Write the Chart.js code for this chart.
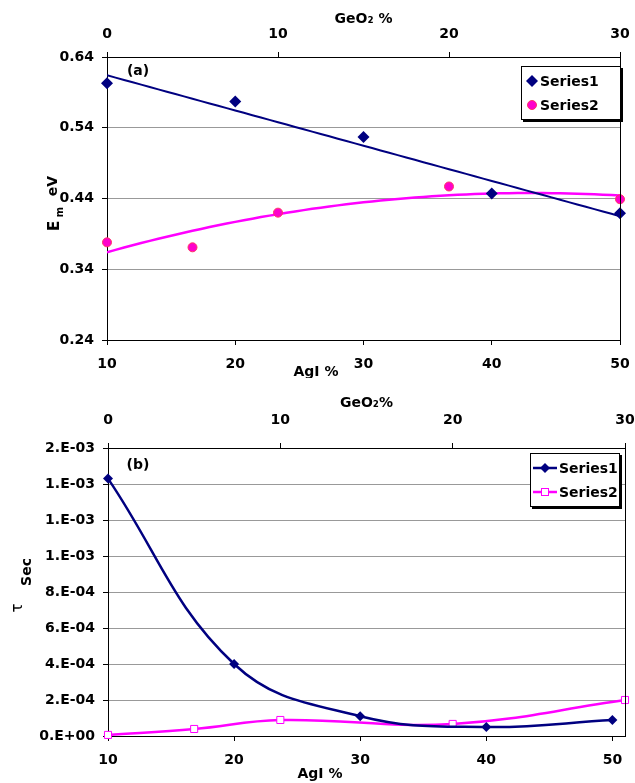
<!DOCTYPE html>
<html>
<head>
<meta charset="utf-8">
<script src="https://cdn.jsdelivr.net/npm/chart.js@4.4.1/dist/chart.umd.min.js"></script>
<style>
  body { margin: 0; background: #fff; }
  .wrap { position: absolute; left: 0; width: 635px; }
  .legend {
    position: absolute; background: #fff; border: 1px solid #000;
    box-shadow: 2px 2px 0 #000; font: bold 14px "DejaVu Sans", Verdana, sans-serif; color: #000;
  }
  .legend .row { display: flex; align-items: center; height: 24px; }
  .legend svg { display: block; margin-right: 1px; }
</style>
</head>
<body>
<div class="wrap" style="top:0; height:378px;"><canvas id="chartA"></canvas></div>
<div class="wrap" style="top:378px; height:405px;"><canvas id="chartB"></canvas></div>
<div class="legend" id="legendA" style="left:521px; top:66px; width:95px; padding:2px 0 2px 3px;"></div>
<div class="legend" id="legendB" style="left:530px; top:453px; width:87px; padding:2px 0 2px 1px;"></div>

<script>
// ---- data ----
const agiTicks = [10, 20, 30, 40, 50];
const geoTicks = [0, 10, 20, 30];

// (a) Em (eV)
const emAgI = [10, 20, 30, 40, 50];
const emSeries1 = [0.603, 0.577, 0.527, 0.447, 0.419];
const emGeO2 = [0, 5, 10, 20, 30];
const emSeries2 = [0.378, 0.371, 0.420, 0.457, 0.439];
const emTicks = [0.24, 0.34, 0.44, 0.54, 0.64];

// (b) tau (sec)
const tauAgI = [10, 20, 30, 40, 50];
const tauSeries1 = [1.43e-3, 4.0e-4, 1.1e-4, 5.0e-5, 8.9e-5];
const tauGeO2 = [0, 5, 10, 20, 30];
const tauSeries2 = [6e-6, 3.9e-5, 8.9e-5, 6.7e-5, 2.0e-4];
const tauTicks = [0, 2e-4, 4e-4, 6e-4, 8e-4, 1.0e-3, 1.2e-3, 1.4e-3, 1.6e-3];

const NAVY = '#000080';
const PINK = '#ff00ff';
const FONT = '"DejaVu Sans", Verdana, sans-serif';
const tickFont = { family: FONT, size: 14, weight: 'bold' };

Chart.defaults.font.family = FONT;
Chart.defaults.color = '#000';

const pts = (xs, ys) => xs.map((x, i) => ({ x, y: ys[i] }));
const fixedTicks = values => scale => { scale.ticks = values.map(v => ({ value: v })); };

// least squares polynomial, like an Excel trendline
function fitPoly(xs, ys, deg) {
  const n = deg + 1;
  const m = [];
  for (let i = 0; i < n; i++) {
    m.push([]);
    for (let j = 0; j < n; j++) m[i].push(xs.reduce((s, x) => s + Math.pow(x, i + j), 0));
    m[i].push(xs.reduce((s, x, k) => s + Math.pow(x, i) * ys[k], 0));
  }
  for (let i = 0; i < n; i++) {
    for (let k = i + 1; k < n; k++) {
      const f = m[k][i] / m[i][i];
      for (let j = i; j <= n; j++) m[k][j] -= f * m[i][j];
    }
  }
  const c = new Array(n).fill(0);
  for (let i = n - 1; i >= 0; i--) {
    let s = m[i][n];
    for (let j = i + 1; j < n; j++) s -= m[i][j] * c[j];
    c[i] = s / m[i][i];
  }
  return c;
}

function trend(xs, ys, deg) {
  const c = fitPoly(xs, ys, deg);
  const lo = Math.min(...xs), hi = Math.max(...xs);
  const out = [];
  for (let i = 0; i <= 60; i++) {
    const x = lo + (hi - lo) * i / 60;
    out.push({ x, y: c.reduce((s, a, k) => s + a * Math.pow(x, k), 0) });
  }
  return out;
}

function expLabel(v) {
  if (Math.abs(v) < 1e-12) return '0.E+00';
  const [mant, ex] = v.toExponential(0).split('e');
  const e = parseInt(ex, 10);
  return mant + '.E' + (e < 0 ? '-' : '+') + String(Math.abs(e)).padStart(2, '0');
}

function rotText(ctx, text, x, y, font) {
  ctx.save();
  ctx.translate(x, y);
  ctx.rotate(-Math.PI / 2);
  ctx.font = font;
  ctx.textAlign = 'center';
  ctx.textBaseline = 'middle';
  ctx.fillText(text, 0, 0);
  ctx.restore();
}

// fixed axis box size, no extra side padding for edge labels
const fixHeight = h => s => { s.height = h; s.paddingLeft = 0; s.paddingRight = 0; };

function xAxes(xMin, xMax, bottomHeight, topHeight, topTitle, topPad, titlePad) {
  const common = {
    type: 'linear',
    grid: { drawOnChartArea: false, color: '#000', tickLength: 5 },
    border: { color: '#000', width: 1 },
    ticks: { font: tickFont, color: '#000', maxRotation: 0 }
  };
  return {
    x: {
      ...common, position: 'bottom', min: xMin, max: xMax,
      afterBuildTicks: fixedTicks(agiTicks),
      afterFit: fixHeight(bottomHeight),
      ticks: { ...common.ticks, padding: 11 }
    },
    x2: {
      ...common, position: 'top', min: 0, max: 30,
      afterBuildTicks: fixedTicks(geoTicks),
      afterFit: fixHeight(topHeight),
      ticks: { ...common.ticks, padding: topPad },
      title: { display: true, text: topTitle, font: { family: FONT, size: 14, weight: 'bold' }, color: '#000',
        padding: { top: titlePad, bottom: 0 } }
    }
  };
}

function framePlugin(draw) {
  return {
    id: 'frame',
    afterDraw(chart) {
      const { ctx, chartArea: a } = chart;
      ctx.save();
      ctx.strokeStyle = '#000';
      ctx.lineWidth = 1;
      ctx.beginPath();
      ctx.moveTo(a.right + 0.5, a.top);
      ctx.lineTo(a.right + 0.5, a.bottom);
      ctx.stroke();
      ctx.fillStyle = '#000';
      draw(ctx, a);
      ctx.restore();
    }
  };
}

// ---- chart (a) ----
const chartA = new Chart(document.getElementById('chartA'), {
  type: 'scatter',
  data: {
    datasets: [
      { label: 'Series1', data: pts(emAgI, emSeries1), xAxisID: 'x', pointStyle: 'rectRot', pointRadius: 6,
        backgroundColor: NAVY, borderColor: NAVY, borderWidth: 0, clip: false },
      { label: 'Series2', data: pts(emGeO2, emSeries2), xAxisID: 'x2', pointStyle: 'circle', pointRadius: 4.5,
        backgroundColor: '#ff00cc', borderColor: '#ff3366', borderWidth: 1, clip: false },
      { label: 'trend1', data: trend(emAgI, emSeries1, 1), xAxisID: 'x', showLine: true, pointRadius: 0,
        borderColor: NAVY, borderWidth: 2 },
      { label: 'trend2', data: trend(emGeO2, emSeries2, 2), xAxisID: 'x2', showLine: true, pointRadius: 0,
        borderColor: PINK, borderWidth: 2.5 }
    ]
  },
  options: {
    responsive: true,
    maintainAspectRatio: false,
    animation: false,
    events: [],
    layout: { padding: { left: 0, right: 15, top: 0, bottom: 0 } },
    plugins: { legend: { display: false }, tooltip: { enabled: false } },
    scales: {
      ...xAxes(10, 50, 38, 57, 'GeO\u2082 %', 9, 11),
      y: {
        min: 0.24, max: 0.64,
        afterBuildTicks: fixedTicks(emTicks),
        afterFit: s => { s.width = 107; },
        grid: { color: '#999', tickColor: '#000', tickLength: 5 },
        border: { color: '#000', width: 1 },
        ticks: { font: tickFont, color: '#000', padding: 8, callback: v => v.toFixed(2) }
      }
    }
  },
  plugins: [framePlugin((ctx, a) => {
    ctx.font = `bold 14px ${FONT}`;
    ctx.textAlign = 'center';
    ctx.textBaseline = 'middle';
    ctx.fillText('(a)', a.left + 31, a.top + 14);
    ctx.fillText('AgI %', 316, a.bottom + 32);
    rotText(ctx, 'E', 55, 226, `bold 15px ${FONT}`);
    rotText(ctx, 'm', 60, 212, `bold 10px ${FONT}`);
    rotText(ctx, 'eV', 53, 186, `bold 14px ${FONT}`);
  })]
});

// ---- chart (b) ----
const chartB = new Chart(document.getElementById('chartB'), {
  type: 'scatter',
  data: {
    datasets: [
      { label: 'Series1', data: pts(tauAgI, tauSeries1), xAxisID: 'x', showLine: true, tension: 0.4,
        pointStyle: 'rectRot', pointRadius: 5, backgroundColor: NAVY, borderColor: NAVY, borderWidth: 2.5,
        pointBorderWidth: 0, clip: false },
      { label: 'Series2', data: pts(tauGeO2, tauSeries2), xAxisID: 'x2', showLine: true, tension: 0.4,
        pointStyle: 'rect', pointRadius: 5, backgroundColor: '#fff', borderColor: PINK, borderWidth: 2.5,
        pointBorderWidth: 1, clip: false }
    ]
  },
  options: {
    responsive: true,
    maintainAspectRatio: false,
    animation: false,
    events: [],
    layout: { padding: { left: 0, right: 10, top: 0, bottom: 0 } },
    plugins: { legend: { display: false }, tooltip: { enabled: false } },
    scales: {
      ...xAxes(10, 51, 47, 70, 'GeO\u2082%', 14, 17),
      y: {
        min: 0, max: 1.6e-3,
        afterBuildTicks: fixedTicks(tauTicks),
        afterFit: s => { s.width = 108; },
        grid: { color: '#999', tickColor: '#000', tickLength: 5 },
        border: { color: '#000', width: 1 },
        ticks: { font: tickFont, color: '#000', padding: 8, callback: v => expLabel(v) }
      }
    }
  },
  plugins: [framePlugin((ctx, a) => {
    ctx.font = `bold 14px ${FONT}`;
    ctx.textAlign = 'center';
    ctx.textBaseline = 'middle';
    ctx.fillText('(b)', a.left + 30, a.top + 17);
    ctx.fillText('AgI %', 320, a.bottom + 38);
    rotText(ctx, '\u03C4', 18, 608 - 378, `15px ${FONT}`);
    rotText(ctx, 'Sec', 27, 572 - 378, `bold 14px ${FONT}`);
  })]
});

// ---- HTML legends ----
const svgDiamond = `<svg width="14" height="14"><path d="M7 1 L13 7 L7 13 L1 7 Z" fill="${NAVY}"/></svg>`;
const svgCircle = `<svg width="14" height="14"><circle cx="7" cy="7" r="4.5" fill="#ff00cc" stroke="#ff3366"/></svg>`;
const svgLineDiamond = `<svg width="26" height="14"><line x1="1" y1="7" x2="25" y2="7" stroke="${NAVY}" stroke-width="2.5"/><path d="M13 2 L18 7 L13 12 L8 7 Z" fill="${NAVY}"/></svg>`;
const svgLineSquare = `<svg width="26" height="14"><line x1="1" y1="7" x2="25" y2="7" stroke="${PINK}" stroke-width="2.5"/><rect x="9.5" y="3.5" width="7" height="7" fill="#fff" stroke="${PINK}"/></svg>`;

function buildLegend(el, chart, markers) {
  el.innerHTML = markers.map((m, i) =>
    `<div class="row">${m}<span>${chart.data.datasets[i].label}</span></div>`).join('');
}
buildLegend(document.getElementById('legendA'), chartA, [svgDiamond, svgCircle]);
buildLegend(document.getElementById('legendB'), chartB, [svgLineDiamond, svgLineSquare]);
</script>
</body>
</html>
